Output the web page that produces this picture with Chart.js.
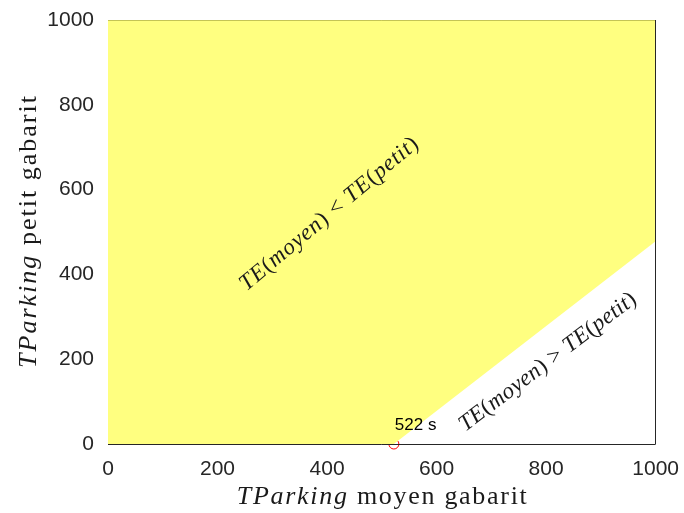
<!DOCTYPE html>
<html>
<head>
<meta charset="utf-8">
<script src="https://cdn.jsdelivr.net/npm/chart.js@4.4.0/dist/chart.umd.min.js"></script>
<style>
html,body{margin:0;padding:0;background:#fff;}
#wrap{width:684px;height:513px;}
</style>
</head>
<body>
<div id="wrap"><canvas id="c" width="684" height="513"></canvas></div>
<script>
// ---- data ----
const xTickValues = [0, 200, 400, 600, 800, 1000];
const yTickValues = [0, 200, 400, 600, 800, 1000];
const boundaryX = [0, 522, 1000];          // TParking moyen gabarit
const boundaryY = [0, 0, 478];             // TParking petit gabarit on the limit
const markerX = [522];
const markerY = [0];
const markerLabel = '522 s';
const xTitleRuns = [['TParking', 'italic'], [' moyen gabarit', 'normal']];
const yTitleRuns = [['TParking', 'italic'], [' petit gabarit', 'normal']];
const regionTextA = [['TE', 'italic'], ['(', 'normal'], ['moyen', 'italic'], [')', 'normal'], [' < ', 'normal'], ['TE', 'italic'], ['(', 'normal'], ['petit', 'italic'], [')', 'normal']];
const regionTextB = [['TE', 'italic'], ['(', 'normal'], ['moyen', 'italic'], [')', 'normal'], [' > ', 'normal'], ['TE', 'italic'], ['(', 'normal'], ['petit', 'italic'], [')', 'normal']];
const regionAPos = [404, 542];
const regionBPos = [803, 193];

const boundaryPts = boundaryX.map((x, i) => ({x: x, y: boundaryY[i]}));
const markerPts = markerX.map((x, i) => ({x: x, y: markerY[i]}));

const SERIF = '"Liberation Serif", "DejaVu Serif", serif';
const SANS = '"Liberation Sans", Arial, Helvetica, sans-serif';

// draw mixed-style text, spreading characters to reach the target length
function drawRuns(ctx, runs, cx, cy, angleDeg, size, target) {
  ctx.save();
  ctx.translate(cx, cy);
  ctx.rotate(angleDeg * Math.PI / 180);
  ctx.textBaseline = 'middle';
  ctx.textAlign = 'left';
  ctx.fillStyle = '#1a1a1a';
  const chars = [];
  let total = 0;
  runs.forEach(r => {
    const f = r[1] + ' ' + size + 'px ' + SERIF;
    ctx.font = f;
    for (const ch of r[0]) {
      const w = ctx.measureText(ch).width;
      chars.push([ch, f, w]);
      total += w;
    }
  });
  const extra = target ? Math.max(0, (target - total) / Math.max(1, chars.length - 1)) : 0;
  const full = total + extra * (chars.length - 1);
  let xx = -full / 2;
  chars.forEach(c => {
    ctx.font = c[1];
    ctx.fillText(c[0], xx, 0);
    xx += c[2] + extra;
  });
  ctx.restore();
}

const overlay = {
  id: 'overlay',
  afterDatasetsDraw(chart) {
    const ctx = chart.ctx;
    const a = chart.chartArea;
    const xs = chart.scales.x, ys = chart.scales.y;
    ctx.save();
    // top edge (faint)
    ctx.strokeStyle = 'rgba(190,190,80,0.9)';
    ctx.lineWidth = 1;
    ctx.beginPath();
    ctx.moveTo(a.left, Math.round(a.top) + 0.5);
    ctx.lineTo(a.right, Math.round(a.top) + 0.5);
    ctx.stroke();
    // right and bottom borders
    ctx.strokeStyle = '#262626';
    ctx.beginPath();
    ctx.moveTo(Math.round(a.right) - 0.5, a.top);
    ctx.lineTo(Math.round(a.right) - 0.5, a.bottom);
    ctx.moveTo(a.left, Math.round(a.bottom) + 0.5);
    ctx.lineTo(a.right, Math.round(a.bottom) + 0.5);
    ctx.stroke();
    // marker label
    ctx.font = '17px ' + SANS;
    ctx.fillStyle = '#000';
    ctx.textAlign = 'left';
    ctx.textBaseline = 'alphabetic';
    ctx.fillText(markerLabel, xs.getPixelForValue(markerX[0]) + 1, ys.getPixelForValue(markerY[0]) - 14);
    // region labels
    drawRuns(ctx, regionTextA, xs.getPixelForValue(regionAPos[0]), ys.getPixelForValue(regionAPos[1]), -40, 23, 226);
    drawRuns(ctx, regionTextB, xs.getPixelForValue(regionBPos[0]), ys.getPixelForValue(regionBPos[1]), -37, 23, 216);
    // axis titles
    drawRuns(ctx, xTitleRuns, (a.left + a.right) / 2, 497, 0, 26, 290);
    drawRuns(ctx, yTitleRuns, 29, (a.top + a.bottom) / 2, -90, 26, 272);
    ctx.restore();
  }
};

new Chart(document.getElementById('c'), {
  type: 'line',
  data: {
    datasets: [
      {
        label: 'TE(moyen) < TE(petit)',
        data: boundaryPts,
        borderWidth: 0,
        borderColor: 'rgba(0,0,0,0)',
        backgroundColor: 'rgb(255,255,128)',
        fill: 'end',
        pointRadius: 0,
        tension: 0
      },
      {
        label: markerLabel,
        data: markerPts,
        showLine: false,
        pointRadius: 5,
        pointStyle: 'circle',
        pointBorderColor: '#ff0000',
        pointBackgroundColor: 'rgba(0,0,0,0)',
        pointBorderWidth: 1,
        clip: false
      }
    ]
  },
  options: {
    responsive: false,
    animation: false,
    events: [],
    layout: {padding: {top: 20, right: 27, left: 0, bottom: 0}},
    plugins: {legend: {display: false}, tooltip: {enabled: false}},
    scales: {
      x: {
        type: 'linear', min: 0, max: 1000,
        afterBuildTicks: s => { s.ticks = xTickValues.map(v => ({value: v})); },
        grid: {display: false},
        border: {display: false},
        ticks: {font: {family: SANS, size: 21}, color: '#262626', padding: 5, maxRotation: 0,
                callback: v => String(v)},
        afterFit: s => { s.height = 69; }
      },
      y: {
        type: 'linear', min: 0, max: 1000,
        afterBuildTicks: s => { s.ticks = yTickValues.map(v => ({value: v})); },
        grid: {display: false},
        border: {display: false},
        ticks: {font: {family: SANS, size: 21}, color: '#262626', padding: 6,
                callback: v => String(v)},
        afterFit: s => { s.width = 108; }
      }
    }
  },
  plugins: [overlay]
});
</script>
</body>
</html>
